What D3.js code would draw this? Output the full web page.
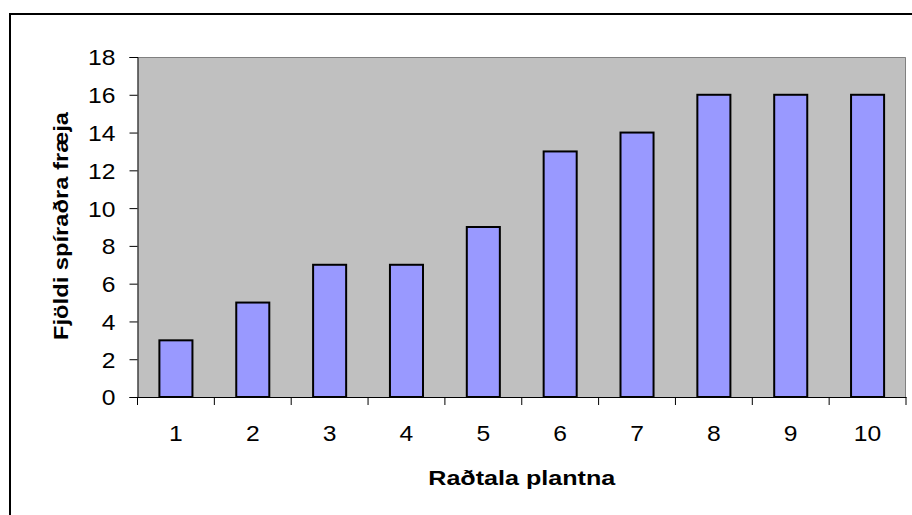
<!DOCTYPE html>
<html>
<head>
<meta charset="utf-8">
<script src="https://cdn.jsdelivr.net/npm/d3@7"></script>
<style>
  html, body { margin: 0; padding: 0; background: #fff; }
  svg { display: block; }
  text { font-family: "Liberation Sans", Arial, sans-serif; fill: #000; }
</style>
</head>
<body>
<svg id="chart" width="912" height="515"></svg>
<script>
// Germinated seeds per plant
const plants = ["1", "2", "3", "4", "5", "6", "7", "8", "9", "10"];
const seeds = [3, 5, 7, 7, 9, 13, 14, 16, 16, 16];
const yTicks = [0, 2, 4, 6, 8, 10, 12, 14, 16, 18];
const xTitle = "Raðtala plantna";
const yTitle = "Fjöldi spíraðra fræja";

const svg = d3.select("#chart");
const plot = { left: 137.5, right: 906, top: 57, bottom: 397 };

// widen glyphs a little, keeping the anchor point fixed
function widen(sel, factor) {
  sel.each(function () {
    const len = this.getComputedTextLength();
    d3.select(this)
      .attr("textLength", len * factor)
      .attr("lengthAdjust", "spacingAndGlyphs");
  });
}

// outer chart frame (continues past the right and bottom of the window)
svg.append("rect")
  .attr("x", 10).attr("y", 14)
  .attr("width", 2000).attr("height", 2000)
  .attr("fill", "none").attr("stroke", "#000").attr("stroke-width", 2);

const x = d3.scaleBand().domain(plants).range([plot.left, plot.right]).padding(0);
const y = d3.scaleLinear().domain([0, 18]).range([plot.bottom, plot.top]);

// plot background
svg.append("rect")
  .attr("x", plot.left).attr("y", plot.top)
  .attr("width", plot.right - plot.left).attr("height", plot.bottom - plot.top)
  .attr("fill", "#c0c0c0");
svg.append("path")
  .attr("d", `M${plot.left},${plot.top + 0.5}H${plot.right - 0.5}V${plot.bottom}`)
  .attr("fill", "none").attr("stroke", "#808080").attr("stroke-width", 1);

// bars
const barW = x.bandwidth() * 0.43;
svg.append("g").selectAll("rect")
  .data(seeds)
  .join("rect")
  .attr("x", (d, i) => x(plants[i]) + (x.bandwidth() - barW) / 2)
  .attr("y", d => y(d))
  .attr("width", barW)
  .attr("height", d => y(0) - y(d))
  .attr("fill", "#9999ff")
  .attr("stroke", "#000")
  .attr("stroke-width", 2);

// y axis
const yAxis = d3.axisLeft(y).tickValues(yTicks).tickSize(8).tickPadding(14);
const gy = svg.append("g").attr("transform", `translate(${plot.left},0)`).call(yAxis);
gy.attr("font-size", null).attr("font-family", null);
gy.select(".domain").attr("stroke", "#000");
gy.selectAll(".tick line").attr("stroke", "#000");
gy.selectAll(".tick text")
  .style("font-size", "22px")
  .attr("dy", "0.36em")
  .call(widen, 1.12);

// x axis: ticks between categories
const xAxis = d3.axisBottom(x).tickSize(0).tickPadding(28);
const gx = svg.append("g").attr("transform", `translate(0,${plot.bottom})`).call(xAxis);
gx.attr("font-size", null).attr("font-family", null);
gx.select(".domain").attr("stroke", "#000");
gx.selectAll(".tick text")
  .style("font-size", "22px")
  .call(widen, 1.12);
const bounds = plants.map(p => x(p)).concat([x(plants[plants.length - 1]) + x.bandwidth()]);
gx.selectAll(".sep")
  .data(bounds)
  .join("line")
  .attr("class", "sep")
  .attr("x1", d => d).attr("x2", d => d)
  .attr("y1", 0).attr("y2", 8)
  .attr("stroke", "#000");

// axis titles
svg.append("text")
  .attr("x", (plot.left + plot.right) / 2)
  .attr("y", 485)
  .attr("text-anchor", "middle")
  .style("font-size", "21px")
  .style("font-weight", "bold")
  .attr("textLength", 187)
  .attr("lengthAdjust", "spacingAndGlyphs")
  .text(xTitle);

svg.append("text")
  .attr("transform", `translate(68,${(plot.top + plot.bottom) / 2 - 1}) rotate(-90)`)
  .attr("text-anchor", "middle")
  .style("font-size", "21px")
  .style("font-weight", "bold")
  .attr("textLength", 228)
  .attr("lengthAdjust", "spacingAndGlyphs")
  .text(yTitle);
</script>
</body>
</html>
